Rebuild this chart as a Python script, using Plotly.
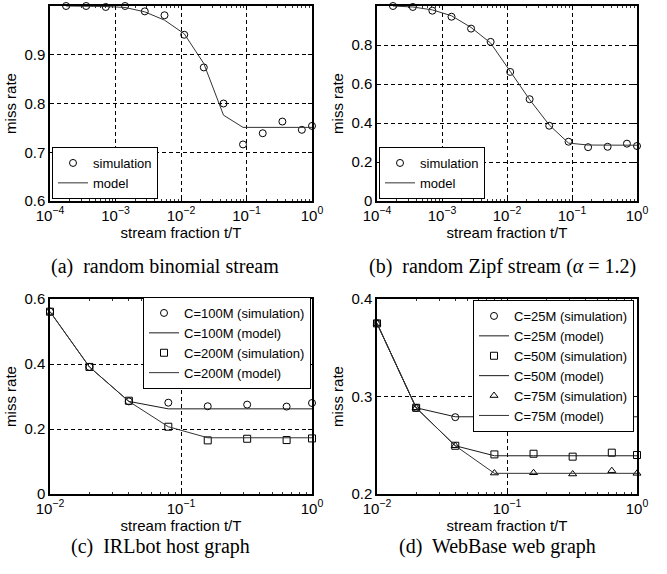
import plotly.graph_objects as go

W, H = 667, 574

# ---------------- data ----------------
x_stream = [1.76e-4, 3.56e-4, 7.1e-4, 1.4e-3, 2.8e-3, 5.6e-3, 0.0112, 0.0223,
            0.0446, 0.0885, 0.177, 0.353, 0.70, 1.0]
binom_sim = [1.0, 1.0, 0.998, 1.0, 0.989, 0.981, 0.941, 0.874, 0.800, 0.716,
             0.739, 0.763, 0.746, 0.754]
binom_model = [1.0, 1.0, 0.999, 0.997, 0.988, 0.971, 0.943, 0.882, 0.776, 0.751,
               0.751, 0.751, 0.751, 0.751]
zipf_sim = [1.0, 0.995, 0.976, 0.945, 0.884, 0.816, 0.662, 0.522, 0.386, 0.304,
            0.276, 0.278, 0.294, 0.282]
zipf_model = [1.0, 0.995, 0.98, 0.95, 0.89, 0.81, 0.665, 0.52, 0.39, 0.297,
              0.287, 0.286, 0.286, 0.286]

x_graph = [0.01, 0.02, 0.04, 0.08, 0.16, 0.32, 0.64, 1.0]
irl_sim_100 = [0.561, 0.391, 0.285, 0.281, 0.270, 0.275, 0.269, 0.280]
irl_model_100 = [0.561, 0.391, 0.285, 0.262, 0.262, 0.262, 0.262, 0.262]
irl_sim_200 = [0.561, 0.391, 0.287, 0.207, 0.165, 0.170, 0.166, 0.171]
irl_model_200 = [0.561, 0.391, 0.285, 0.207, 0.173, 0.173, 0.173, 0.173]

x_web25 = [0.01, 0.02, 0.04, 0.08, 0.16, 0.32, 0.64]
web_sim_25 = [0.375, 0.2884, 0.2788, 0.2771, 0.2792, 0.2768, 0.2805]
web_model_25 = [0.375, 0.2884, 0.2792, 0.2792, 0.2792, 0.2792, 0.2792, 0.2792]
web_sim_50 = [0.375, 0.2884, 0.2495, 0.2406, 0.2413, 0.2383, 0.2424, 0.2400]
web_model_50 = [0.375, 0.2884, 0.2495, 0.2392, 0.2392, 0.2392, 0.2392, 0.2392]
web_sim_75 = [0.375, 0.2884, 0.2495, 0.2215, 0.2218, 0.2205, 0.2239, 0.2212]
web_model_75 = [0.375, 0.2884, 0.2495, 0.2212, 0.2212, 0.2212, 0.2212, 0.2212]

xtick_stream = [1e-4, 1e-3, 1e-2, 1e-1, 1]
xtick_stream_text = ["10<sup>−4</sup>", "10<sup>−3</sup>", "10<sup>−2</sup>",
                     "10<sup>−1</sup>", "10<sup>0</sup>"]
xtick_graph = [1e-2, 1e-1, 1]
xtick_graph_text = ["10<sup>−2</sup>", "10<sup>−1</sup>", "10<sup>0</sup>"]

ytick_a = [0.6, 0.7, 0.8, 0.9, 1.0]
ytick_a_text = ["0.6", "0.7", "0.8", "0.9", "1"]
ytick_b = [0, 0.2, 0.4, 0.6, 0.8, 1.0]
ytick_b_text = ["0", "0.2", "0.4", "0.6", "0.8", "1"]
ytick_c = [0, 0.2, 0.4, 0.6]
ytick_c_text = ["0", "0.2", "0.4", "0.6"]
ytick_d = [0.2, 0.3, 0.4]
ytick_d_text = ["0.2", "0.3", "0.4"]

captions = ["(a)  random binomial stream",
            "(b)  random Zipf stream (<i>α</i> = 1.2)",
            "(c)  IRLbot host graph",
            "(d)  WebBase web graph"]

# ---------------- styling helpers ----------------
SANS = "Liberation Sans, Arial, sans-serif"
SERIF = "Liberation Serif, Times New Roman, serif"
LINE = "#1a1a1a"
MSIZE = 7


def xd(l, r):
    return [l / W, r / W]


def yd(t, b):
    return [1 - b / H, 1 - t / H]


def sim(x, y, name, sym, xa, ya, leg):
    return go.Scatter(x=x, y=y, name=name, mode="markers", xaxis=xa, yaxis=ya,
                      legend=leg, cliponaxis=False,
                      marker=dict(symbol=sym, size=MSIZE, color="black",
                                  line=dict(width=1, color="black")))


def model(x, y, name, xa, ya, leg, color=LINE):
    return go.Scatter(x=x, y=y, name=name, mode="lines", xaxis=xa, yaxis=ya,
                      legend=leg, line=dict(color=color, width=1))


fig = go.Figure()
fig.add_trace(sim(x_stream, binom_sim, "simulation", "circle-open", "x", "y", "legend"))
fig.add_trace(model(x_stream, binom_model, "model", "x", "y", "legend", "#333"))
fig.add_trace(sim(x_stream, zipf_sim, "simulation", "circle-open", "x2", "y2", "legend2"))
fig.add_trace(model(x_stream, zipf_model, "model", "x2", "y2", "legend2", "#333"))

fig.add_trace(sim(x_graph, irl_sim_100, "C=100M (simulation)", "circle-open", "x3", "y3", "legend3"))
fig.add_trace(model(x_graph, irl_model_100, "C=100M (model)", "x3", "y3", "legend3"))
fig.add_trace(sim(x_graph, irl_sim_200, "C=200M (simulation)", "square-open", "x3", "y3", "legend3"))
fig.add_trace(model(x_graph, irl_model_200, "C=200M (model)", "x3", "y3", "legend3", "#333"))

fig.add_trace(sim(x_web25, web_sim_25, "C=25M (simulation)", "circle-open", "x4", "y4", "legend4"))
fig.add_trace(model(x_graph, web_model_25, "C=25M (model)", "x4", "y4", "legend4"))
fig.add_trace(sim(x_graph, web_sim_50, "C=50M (simulation)", "square-open", "x4", "y4", "legend4"))
fig.add_trace(model(x_graph, web_model_50, "C=50M (model)", "x4", "y4", "legend4"))
fig.add_trace(sim(x_graph, web_sim_75, "C=75M (simulation)", "triangle-up-open", "x4", "y4", "legend4"))
fig.add_trace(model(x_graph, web_model_75, "C=75M (model)", "x4", "y4", "legend4", "#333"))

tickfont = dict(family=SANS, size=15, color="black")
titlefont = dict(family=SANS, size=15, color="black")
GRID = dict(showgrid=True, gridcolor="black", gridwidth=1, griddash="4px,3px")


def xaxis(dom, rng, anchor, tv, tt):
    return dict(domain=dom, anchor=anchor, type="log", range=rng,
                tickmode="array", tickvals=tv, ticktext=tt, automargin=False,
                showline=True, linecolor="black", linewidth=1.5, mirror="ticks",
                ticks="inside", ticklen=4, tickcolor="black",
                zeroline=False, tickfont=tickfont, **GRID,
                minor=dict(ticks="inside", ticklen=2.5, tickcolor="#333",
                           tickmode="array",
                           tickvals=[m * 10 ** e for e in range(int(rng[0]), int(rng[1]))
                                     for m in range(2, 10)],
                           showgrid=False),
                title=dict(text="stream fraction t/T", font=titlefont, standoff=0))


def yaxis(dom, rng, anchor, tv, tt):
    return dict(domain=dom, anchor=anchor, range=rng,
                tickmode="array", tickvals=tv, ticktext=tt, automargin=False,
                showline=True, linecolor="black", linewidth=1.5, mirror="ticks",
                ticks="inside", ticklen=4, tickcolor="black",
                zeroline=False, tickfont=tickfont, **GRID,
                title=dict(text="miss rate", font=titlefont, standoff=4))


legbase = dict(bgcolor="white", bordercolor="black", borderwidth=1,
               font=dict(family=SANS, size=13, color="black"),
               tracegroupgap=0, itemwidth=30)

fig.update_layout(
    width=W, height=H, margin=dict(l=0, r=0, t=0, b=0),
    paper_bgcolor="white", plot_bgcolor="white", showlegend=True,
    xaxis=xaxis(xd(50, 312), [-4, 0], "y", xtick_stream, xtick_stream_text),
    yaxis=yaxis(yd(6, 201), [0.6, 1.0], "x", ytick_a, ytick_a_text),
    xaxis2=xaxis(xd(377, 637), [-4, 0], "y2", xtick_stream, xtick_stream_text),
    yaxis2=yaxis(yd(6, 201), [0, 1.0], "x2", ytick_b, ytick_b_text),
    xaxis3=xaxis(xd(50, 312), [-2, 0], "y3", xtick_graph, xtick_graph_text),
    yaxis3=yaxis(yd(299, 494), [0, 0.6], "x3", ytick_c, ytick_c_text),
    xaxis4=xaxis(xd(377, 637), [-2, 0], "y4", xtick_graph, xtick_graph_text),
    yaxis4=yaxis(yd(299, 494), [0.2, 0.4], "x4", ytick_d, ytick_d_text),
    legend=dict(legbase, x=52 / W, y=1 - 199 / H, xanchor="left", yanchor="bottom"),
    legend2=dict(legbase, x=379 / W, y=1 - 199 / H, xanchor="left", yanchor="bottom"),
    legend3=dict(legbase, x=311 / W, y=1 - 297 / H, xanchor="right", yanchor="top"),
    legend4=dict(legbase, x=634 / W, y=1 - 300 / H, xanchor="right", yanchor="top"),
)

cap_pos = [(165, 266), (502, 266), (160, 546), (497, 546)]
for text, (cx, cy) in zip(captions, cap_pos):
    fig.add_annotation(text=text, x=cx / W, y=1 - cy / H, xref="paper", yref="paper",
                       showarrow=False, xanchor="center", yanchor="middle",
                       font=dict(family=SERIF, size=20, color="black"))

fig.write_html("out.html", config={"displayModeBar": False},
               post_script="document.body.style.margin='0';")
